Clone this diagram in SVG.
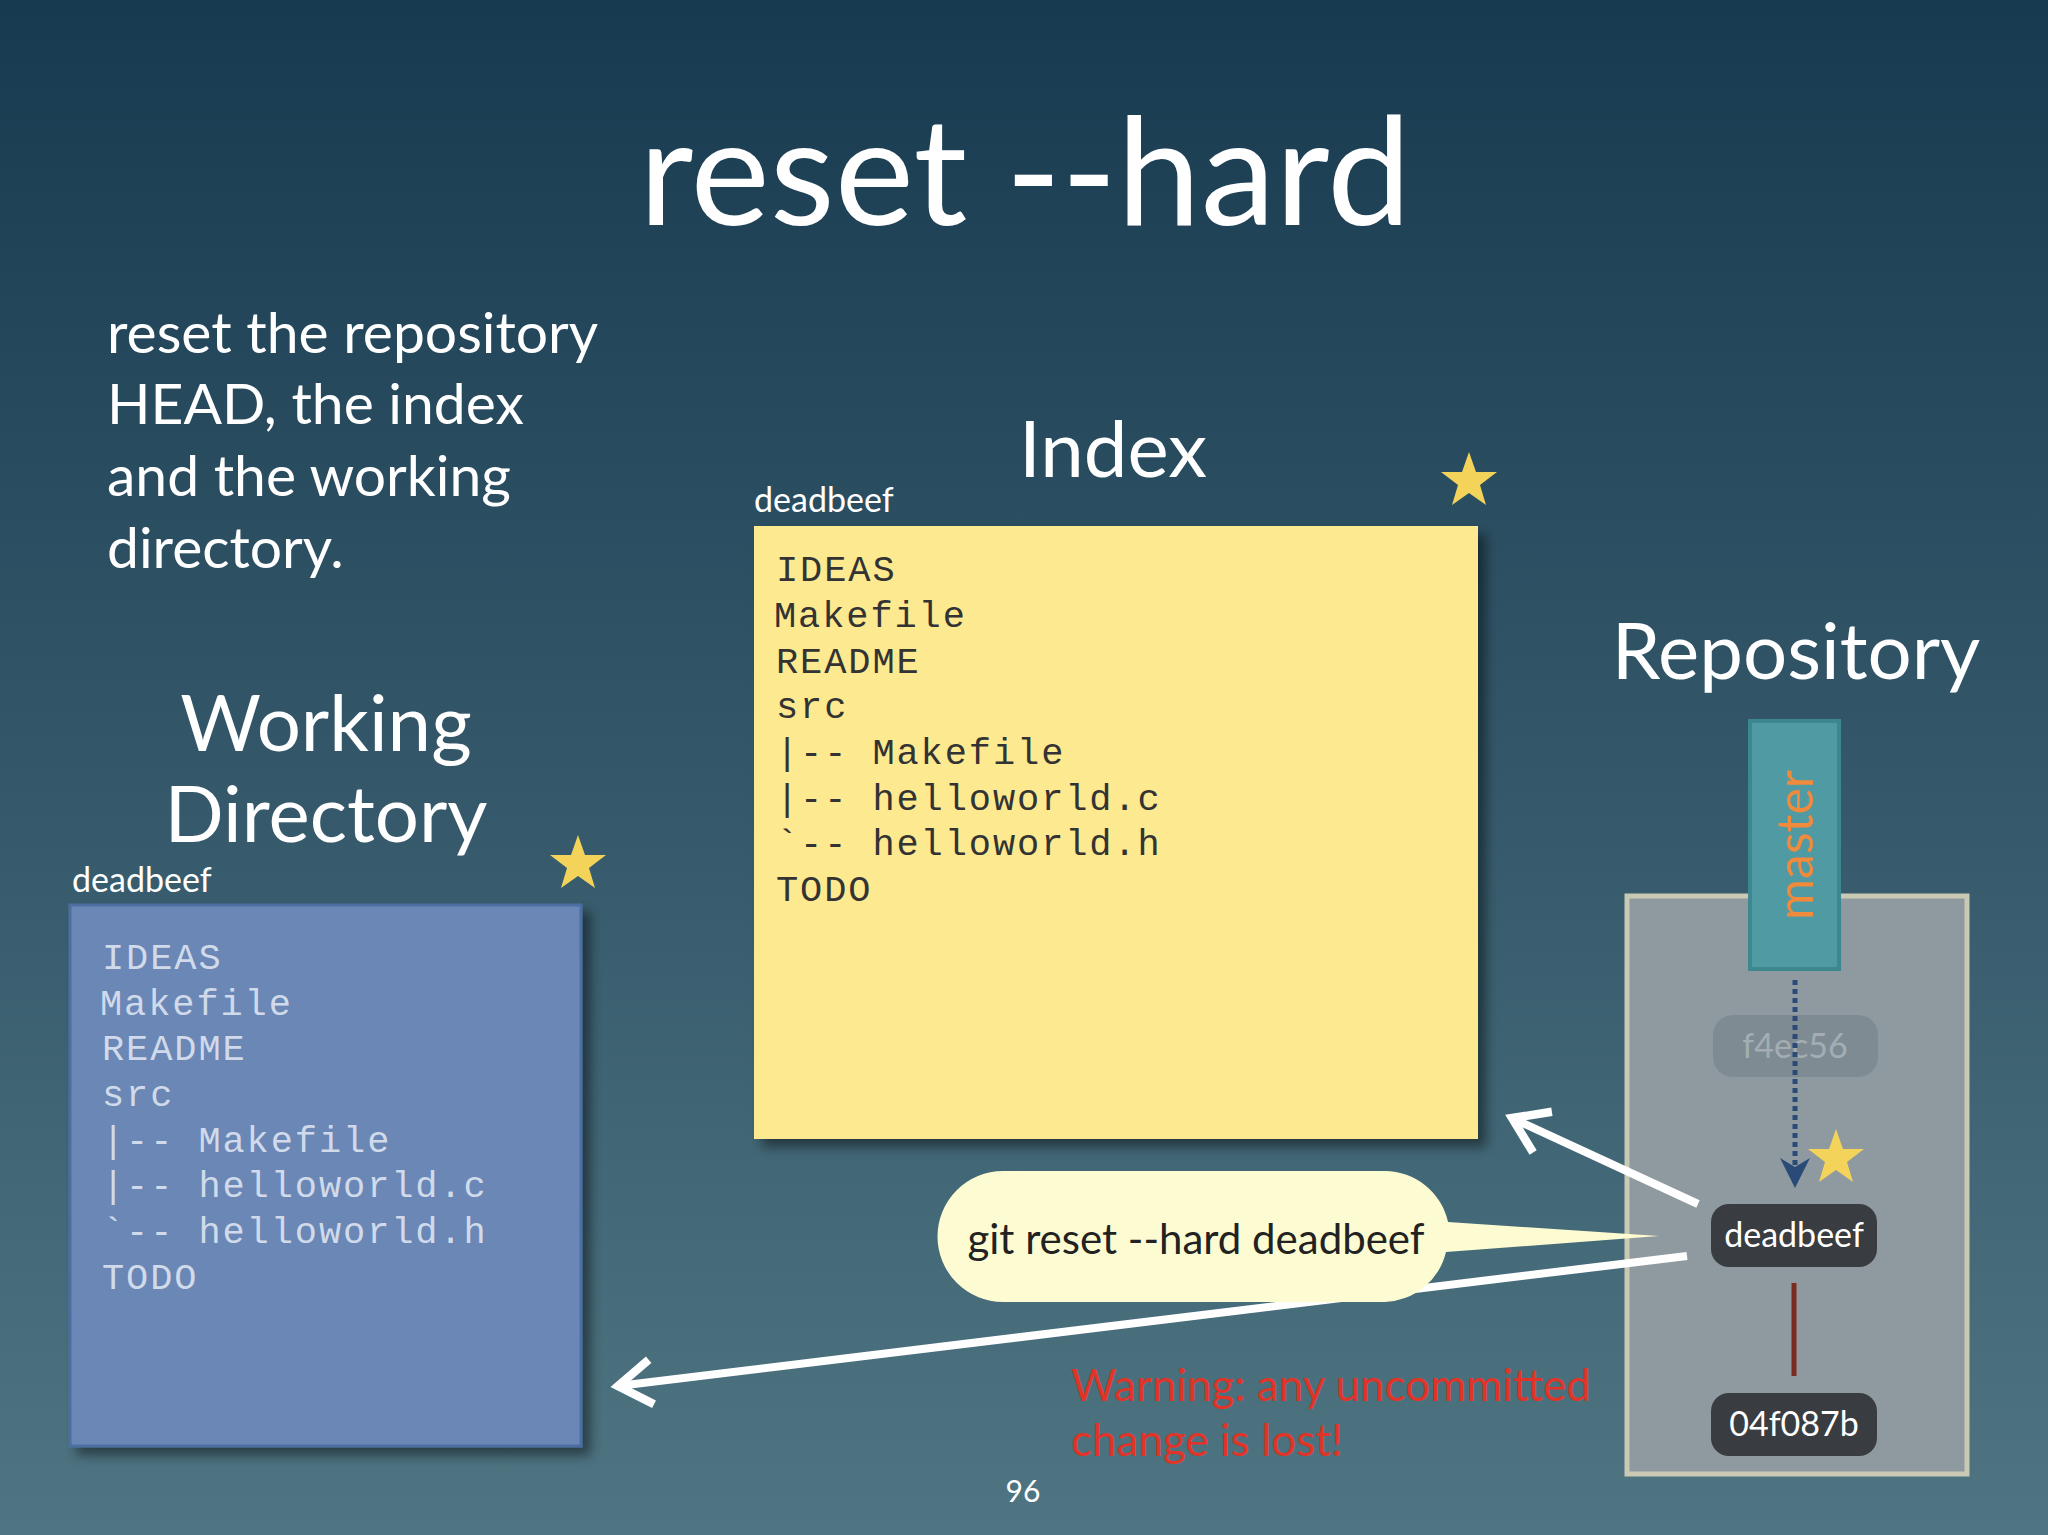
<svg xmlns="http://www.w3.org/2000/svg" width="2048" height="1535" viewBox="0 0 2048 1535">
<defs>
<linearGradient id="bg" x1="0" y1="0" x2="0" y2="1"><stop offset="0" stop-color="#183a50"/><stop offset="1" stop-color="#4f7582"/></linearGradient>
<filter id="sh" x="-10%" y="-10%" width="130%" height="130%"><feDropShadow dx="8" dy="8" stdDeviation="6" flood-color="#000" flood-opacity="0.45"/></filter>
<polygon id="star" points="0,-29 7,-9 28,-9 11,4 17,24 0,12 -17,24 -11,4 -28,-9 -7,-9" fill="#f3d35a"/>
<marker id="ah" viewBox="0 0 20 20" refX="16" refY="10" markerWidth="7" markerHeight="7" orient="auto" markerUnits="strokeWidth"><path d="M4,2 L16,10 L4,18" fill="none" stroke="#fff" stroke-width="3"/></marker>
<marker id="dh" viewBox="0 0 10 10" refX="9" refY="5" markerWidth="6" markerHeight="6" orient="auto" markerUnits="strokeWidth"><path d="M0,0 L10,5 L0,10 L3,5 Z" fill="#2a4a78"/></marker>
</defs>
<style>
.h{font-family:Lato,"Open Sans",sans-serif;fill:#fff}
.m{font-family:"Liberation Mono","DejaVu Sans Mono",monospace;font-size:37px;letter-spacing:1.9px}
.pill{font-family:Lato,sans-serif;font-size:34px;fill:#fff;text-anchor:middle}
</style>
<rect width="2048" height="1535" fill="url(#bg)"/>
<text class="h" x="1025" y="225" font-size="150" text-anchor="middle">reset --hard</text>
<g class="h" font-size="57"><text x="107" y="353">reset the repository</text><text x="107" y="424">HEAD, the index</text><text x="107" y="496">and the working</text><text x="107" y="568">directory.</text></g>

<g id="working">
<text class="h" x="326" y="751" font-size="78" text-anchor="middle">Working</text>
<text class="h" x="326" y="842" font-size="78" text-anchor="middle">Directory</text>
<text class="h" x="72" y="892" font-size="34">deadbeef</text>
<rect x="70" y="905" width="511" height="541" fill="#6a87b5" stroke="#4d6ea3" stroke-width="3" filter="url(#sh)"/>
<g class="m" fill="#d0daea"><text x="102" y="969">IDEAS</text><text x="100" y="1015">Makefile</text><text x="102" y="1060">README</text><text x="102" y="1106">src</text><text x="102" y="1152">|-- Makefile</text><text x="102" y="1197">|-- helloworld.c</text><text x="102" y="1243">`-- helloworld.h</text><text x="102" y="1289">TODO</text></g>
<use href="#star" x="578" y="864"/>
</g>

<g id="index">
<text class="h" x="1113" y="477" font-size="78" text-anchor="middle">Index</text>
<text class="h" x="754" y="512" font-size="34">deadbeef</text>
<rect x="754" y="526" width="724" height="613" fill="#fde98f" filter="url(#sh)"/>
<g class="m" fill="#333"><text x="776" y="581">IDEAS</text><text x="774" y="627">Makefile</text><text x="776" y="673">README</text><text x="776" y="718">src</text><text x="776" y="764">|-- Makefile</text><text x="776" y="810">|-- helloworld.c</text><text x="776" y="855">`-- helloworld.h</text><text x="776" y="901">TODO</text></g>
<use href="#star" x="1469" y="481"/>
</g>

<g id="repository">
<text class="h" x="1796" y="679" font-size="78" text-anchor="middle">Repository</text>
<rect x="1627" y="896" width="340" height="578" fill="#8f9aa0" stroke="#c9c9b4" stroke-width="5"/>
<rect x="1750" y="721" width="89" height="248" fill="#4f9aa3" stroke="#3d8790" stroke-width="4"/>
<text x="0" y="0" transform="translate(1813,845) rotate(-90)" font-family="Lato,sans-serif" font-size="50" fill="#f08a3c" text-anchor="middle">master</text>
<rect x="1713" y="1015" width="165" height="62" rx="20" fill="#7f8b92"/>
<text class="pill" x="1795" y="1058" style="fill:#a3adb3">f4ec56</text>
<rect x="1711" y="1204" width="166" height="63" rx="18" fill="#393c40"/>
<text class="pill" x="1794" y="1247">deadbeef</text>
<rect x="1711" y="1393" width="166" height="63" rx="18" fill="#393c40"/>
<text class="pill" x="1794" y="1436">04f087b</text>
<use href="#star" x="1836" y="1158"/>
</g>

<g id="connectors">
<line x1="1795" y1="980" x2="1795" y2="1185" stroke="#2a4a78" stroke-width="5" stroke-dasharray="5,4" marker-end="url(#dh)"/>
<line x1="1794" y1="1283" x2="1794" y2="1376" stroke="#7a2a20" stroke-width="5"/>
<line x1="1698" y1="1204" x2="1512" y2="1118" stroke="#fff" stroke-width="8" marker-end="url(#ah)"/>
<line x1="1687" y1="1256" x2="618" y2="1386" stroke="#fff" stroke-width="8" marker-end="url(#ah)"/>
</g>

<g id="bubble">
<path d="M1003,1171 H1385 A65,65 0 0 1 1448,1222 L1659,1236 L1446,1252 A65,65 0 0 1 1385,1302 H1003 A65,65 0 0 1 1003,1171 Z" fill="#fdfbd2"/>
<text x="1196" y="1254" font-family="Lato,sans-serif" font-size="42" fill="#222" text-anchor="middle">git reset --hard deadbeef</text>
</g>

<g font-family="Lato,sans-serif" font-size="44" fill="#e03428"><text x="1071" y="1401">Warning: any uncommitted</text><text x="1071" y="1456">change is lost!</text></g>
<text class="h" x="1023" y="1502" font-size="30" text-anchor="middle">96</text>
</svg>
